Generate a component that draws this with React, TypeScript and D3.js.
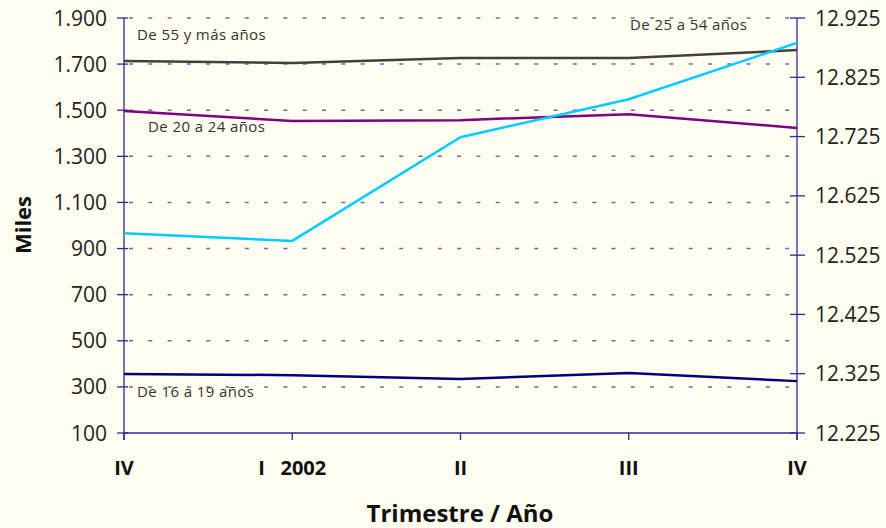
import React from 'react';
import * as d3 from 'd3';

const quarters = ['IV', 'I   2002', 'II', 'III', 'IV'];
const leftTicks = [100, 300, 500, 700, 900, 1100, 1300, 1500, 1700, 1900];
const rightTicks = [12225, 12325, 12425, 12525, 12625, 12725, 12825, 12925];

// left axis series (thousands)
const age16to19 = [356, 351, 334, 360, 325];
const age20to24 = [1497, 1453, 1457, 1483, 1423];
const age55plus = [1713, 1705, 1726, 1726, 1761];
// right axis series
const age25to54 = [12562, 12549, 12724, 12788, 12883];

const W = 886;
const H = 528;
const left = 124;
const right = 797;
const top = 18;
const bottom = 433;
const font = '"Open Sans", sans-serif';
const axisColor = '#2b2b9a';
const gridColor = '#6a68b0';

const fmt = (v: number) => d3.format(',')(v).replace(/,/g, '.');

export default function App() {
  const x = d3.scalePoint<number>().domain(d3.range(quarters.length)).range([left, right]);
  const yL = d3.scaleLinear().domain([100, 1900]).range([bottom, top]);
  const yR = d3.scaleLinear().domain([12225, 12925]).range([bottom, top]);

  const lineL = d3.line<number>().x((_, i) => x(i)!).y(d => yL(d));
  const lineR = d3.line<number>().x((_, i) => x(i)!).y(d => yR(d));

  const series = [
    { data: age55plus, color: '#404040', path: lineL },
    { data: age20to24, color: '#800080', path: lineL },
    { data: age16to19, color: '#000080', path: lineL },
    { data: age25to54, color: '#00ccff', path: lineR },
  ];

  return (
    <svg width={W} height={H} style={{ position: 'absolute', left: 0, top: 0, background: '#fffdf0' }}>
      <rect width={W} height={H} fill="#fffdf0" />
      {leftTicks.filter(t => t > 100).map(t => (
        <line key={t} x1={left} x2={right} y1={yL(t)} y2={yL(t)}
          stroke={gridColor} strokeWidth={1.5} strokeDasharray="4,15.3" strokeDashoffset={-5} />
      ))}
      {/* axes */}
      <line x1={left} x2={left} y1={top} y2={bottom + 7} stroke={axisColor} strokeWidth={1.3} />
      <line x1={right} x2={right} y1={top} y2={bottom + 7} stroke={axisColor} strokeWidth={1.3} />
      <line x1={left} x2={right} y1={bottom} y2={bottom} stroke={axisColor} strokeWidth={1.3} />
      {leftTicks.map(t => (
        <g key={t}>
          <line x1={left - 7} x2={left + 4} y1={yL(t)} y2={yL(t)} stroke={axisColor} strokeWidth={1.3} />
          <text x={107} y={yL(t)} dy="0.36em" textAnchor="end" fontSize={21} fontFamily={font} fill="#222">
            {fmt(t)}
          </text>
        </g>
      ))}
      {rightTicks.map(t => (
        <g key={t}>
          <line x1={right - 7} x2={right + 8} y1={yR(t)} y2={yR(t)} stroke={axisColor} strokeWidth={1.3} />
          <text x={815} y={yR(t)} dy="0.36em" textAnchor="start" fontSize={21} fontFamily={font} fill="#222">
            {fmt(t)}
          </text>
        </g>
      ))}
      {quarters.map((q, i) => (
        <g key={i}>
          <line x1={x(i)} x2={x(i)} y1={bottom} y2={bottom + 7} stroke={axisColor} strokeWidth={1.3} />
          <text x={x(i)} y={475} textAnchor="middle" fontSize={20} fontWeight="bold" fontFamily={font}
            fill="#111" style={{ whiteSpace: 'pre' }}>
            {q}
          </text>
        </g>
      ))}
      {series.map((s, i) => (
        <path key={i} d={s.path(s.data) ?? ''} fill="none" stroke={s.color} strokeWidth={2.5} />
      ))}
      <g fontFamily={font} fontSize={15} letterSpacing={0.4} fill="#333">
        <text x={137} y={40}>De 55 y más años</text>
        <text x={148} y={132}>De 20 a 24 años</text>
        <text x={630} y={30}>De 25 a 54 años</text>
        <text x={137} y={397}>De 16 a 19 años</text>
      </g>
      <text transform="translate(31,225) rotate(-90)" textAnchor="middle" fontSize={22} fontWeight="bold"
        fontFamily={font} fill="#111">Miles</text>
      <text x={460} y={522} textAnchor="middle" fontSize={24} fontWeight="bold" fontFamily={font} fill="#111">
        Trimestre / Año
      </text>
    </svg>
  );
}
